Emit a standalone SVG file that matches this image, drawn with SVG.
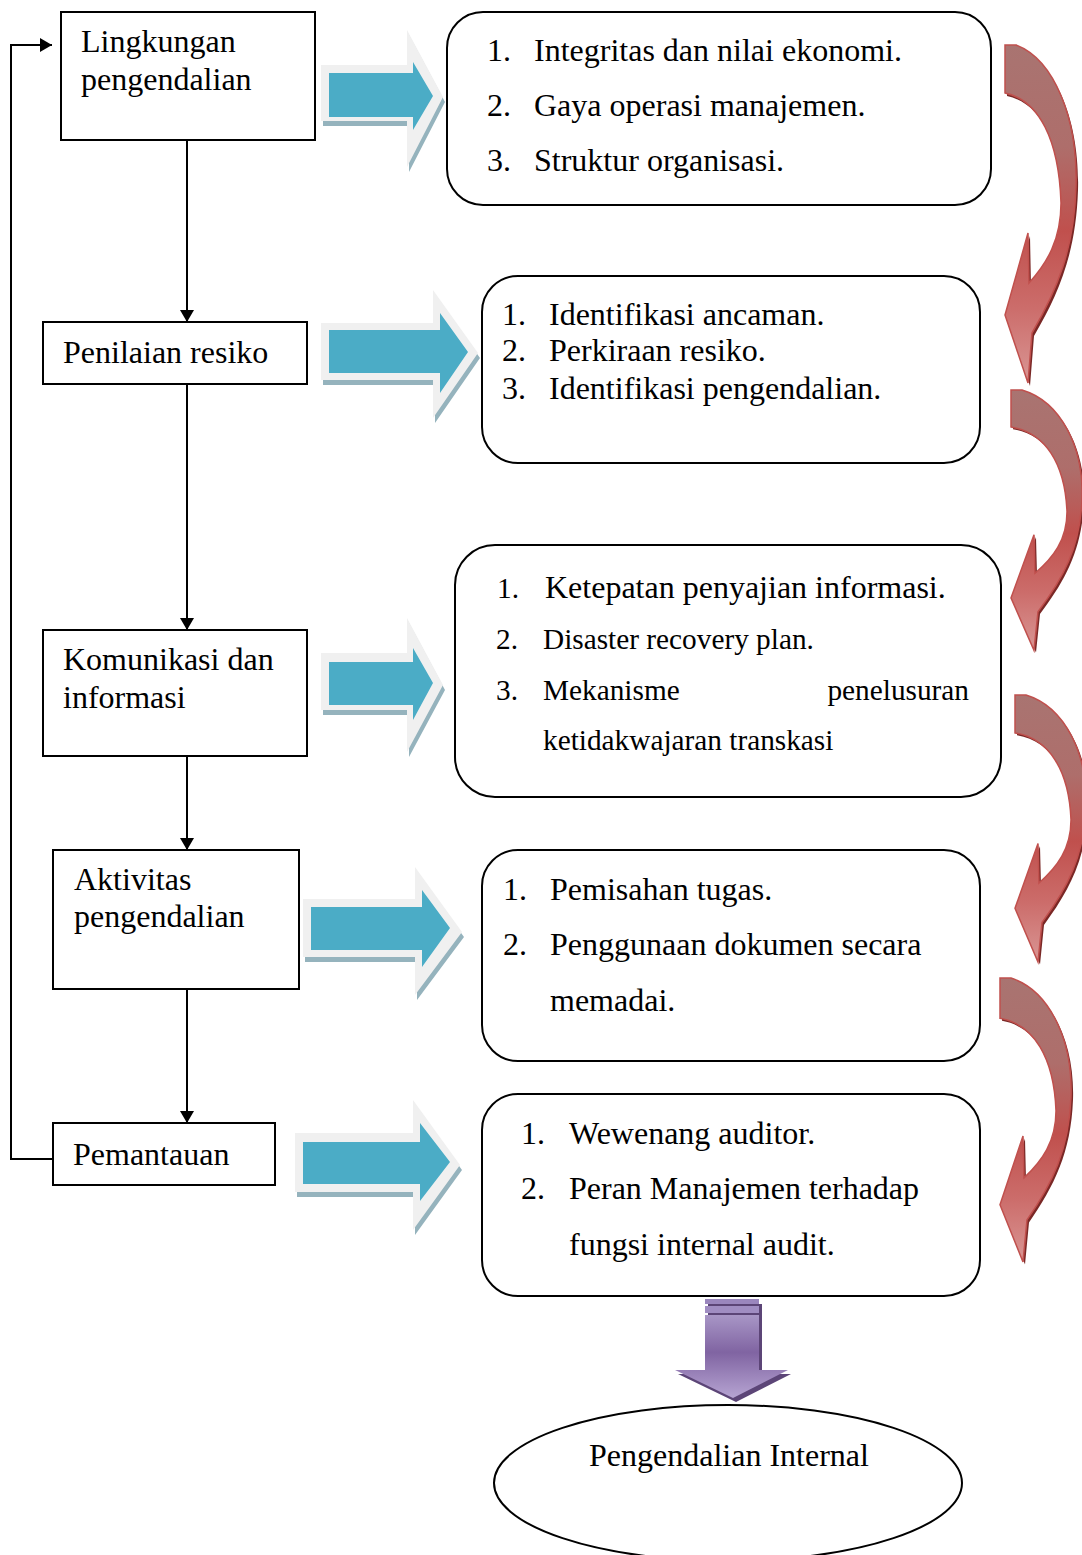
<svg xmlns="http://www.w3.org/2000/svg" xmlns:xlink="http://www.w3.org/1999/xlink" width="1082" height="1555" viewBox="0 0 1082 1555">
<style>
.box{fill:#fff;stroke:#000;stroke-width:2}
.rbox{fill:#fff;stroke:#000;stroke-width:2}
.t{font-family:"Liberation Serif","Times New Roman",serif;font-size:32px;fill:#000}
.ts{font-family:"Liberation Serif","Times New Roman",serif;font-size:29.3px;fill:#000}
.ln{fill:none;stroke:#000;stroke-width:2}
.bo{fill:#f0f0f0}
.bs{fill:#95b3bd}
.bb{fill:#4bacc6}
</style>
<defs>
<marker id="ah" viewBox="0 0 12 14" refX="12" refY="7" markerWidth="12" markerHeight="14" markerUnits="userSpaceOnUse" orient="auto">
<path d="M0,0 L12,7 L0,14 Z" fill="#000"/>
</marker>
<linearGradient id="rg" x1="0" y1="0" x2="0" y2="1">
<stop offset="0" stop-color="#a97471"/>
<stop offset="0.3" stop-color="#ae6e6b"/>
<stop offset="0.55" stop-color="#c0504d"/>
<stop offset="0.78" stop-color="#cc6d6b"/>
<stop offset="1" stop-color="#d99694"/>
</linearGradient>
<linearGradient id="pg" x1="0" y1="0" x2="0" y2="1">
<stop offset="0" stop-color="#a896c6"/>
<stop offset="0.45" stop-color="#8064a2"/>
<stop offset="1" stop-color="#b6a4d2"/>
</linearGradient>
<g id="redArrow">
<path transform="translate(2,3)" fill="#7a2826" d="M0,0 L11,0 C50,15 73,75 71,142 C69,205 52,245 27,288 L23,338 L0,270 L23,188 L24,238 C42,218 56,195 56,158 C54,95 34,55 0,48 Z"/>
<path fill="url(#rg)" stroke="#c0504d" stroke-width="1.5" vector-effect="non-scaling-stroke" d="M0,0 L11,0 C50,15 73,75 71,142 C69,205 52,245 27,288 L23,338 L0,270 L23,188 L24,238 C42,218 56,195 56,158 C54,95 34,55 0,48 Z"/>
</g>
</defs>
<rect width="1082" height="1555" fill="#fff"/>

<g id="connectors">
<line class="ln" x1="187" y1="140" x2="187" y2="322" marker-end="url(#ah)"/>
<line class="ln" x1="187" y1="384" x2="187" y2="630" marker-end="url(#ah)"/>
<line class="ln" x1="187" y1="756" x2="187" y2="850" marker-end="url(#ah)"/>
<line class="ln" x1="187" y1="989" x2="187" y2="1123" marker-end="url(#ah)"/>
<polyline class="ln" points="53,1159 11,1159 11,45 52,45" marker-end="url(#ah)"/>

<g id="blue-arrow-1">
<path class="bs" transform="translate(2,5)" d="M321,65 L407,65 L407,30 L443,97 L407,167 L407,121 L321,121 Z"/>
<path class="bo" d="M321,65 L407,65 L407,30 L443,97 L407,167 L407,121 L321,121 Z"/>
<path class="bb" d="M329,73 L413,73 L413,62 L433,96 L413,130 L413,117 L329,117 Z"/>
</g>
<g id="blue-arrow-2">
<path class="bs" transform="translate(2,5)" d="M321,323 L433,323 L433,290 L478,353 L433,418 L433,380 L321,380 Z"/>
<path class="bo" d="M321,323 L433,323 L433,290 L478,353 L433,418 L433,380 L321,380 Z"/>
<path class="bb" d="M329,330 L440,330 L440,313 L468,352 L440,393 L440,373 L329,373 Z"/>
</g>
<g id="blue-arrow-3">
<path class="bs" transform="translate(2,5)" d="M321,653 L407,653 L407,618 L443,685 L407,752 L407,710 L321,710 Z"/>
<path class="bo" d="M321,653 L407,653 L407,618 L443,685 L407,752 L407,710 L321,710 Z"/>
<path class="bb" d="M329,662 L413,662 L413,648 L433,683 L413,720 L413,705 L329,705 Z"/>
</g>
<g id="blue-arrow-4">
<path class="bs" transform="translate(2,5)" d="M303,899 L415,899 L415,867 L462,932 L415,995 L415,957 L303,957 Z"/>
<path class="bo" d="M303,899 L415,899 L415,867 L462,932 L415,995 L415,957 L303,957 Z"/>
<path class="bb" d="M311,907 L422,907 L422,890 L450,928 L422,967 L422,950 L311,950 Z"/>
</g>
<g id="blue-arrow-5">
<path class="bs" transform="translate(2,5)" d="M295,1133 L413,1133 L413,1100 L460,1165 L413,1230 L413,1192 L295,1192 Z"/>
<path class="bo" d="M295,1133 L413,1133 L413,1100 L460,1165 L413,1230 L413,1192 L295,1192 Z"/>
<path class="bb" d="M303,1142 L420,1142 L420,1123 L450,1162 L420,1201 L420,1184 L303,1184 Z"/>
</g>

<use xlink:href="#redArrow" href="#redArrow" transform="translate(1005,45)"/>
<use xlink:href="#redArrow" href="#redArrow" transform="translate(1011,390) scale(1,0.77)"/>
<use xlink:href="#redArrow" href="#redArrow" transform="translate(1015,695) scale(1,0.79)"/>
<use xlink:href="#redArrow" href="#redArrow" transform="translate(1000,978) scale(1,0.84)"/>

<g id="purple-arrow">
<path fill="#5c4577" transform="translate(3,4)" d="M705,1300 L759,1300 L759,1370 L788,1370 L733,1398 L675,1370 L705,1370 Z"/>
<path fill="url(#pg)" d="M705,1315 L759,1315 L759,1370 L788,1370 L733,1398 L675,1370 L705,1370 Z"/>
<rect x="705" y="1299" width="54" height="5" fill="#9a86bd"/>
<rect x="705" y="1306" width="54" height="7" fill="#a08dc2"/>
</g>
</g>

<g id="node-lingkungan">
<rect class="box" x="61" y="12" width="254" height="128"/>
<text class="t" x="81" y="52">Lingkungan</text>
<text class="t" x="81" y="90">pengendalian</text>
</g>
<g id="node-penilaian">
<rect class="box" x="43" y="322" width="264" height="62"/>
<text class="t" x="63" y="363">Penilaian resiko</text>
</g>
<g id="node-komunikasi">
<rect class="box" x="43" y="630" width="264" height="126"/>
<text class="t" x="63" y="670">Komunikasi dan</text>
<text class="t" x="63" y="708">informasi</text>
</g>
<g id="node-aktivitas">
<rect class="box" x="53" y="850" width="246" height="139"/>
<text class="t" x="74" y="890">Aktivitas</text>
<text class="t" x="74" y="927">pengendalian</text>
</g>
<g id="node-pemantauan">
<rect class="box" x="53" y="1123" width="222" height="62"/>
<text class="t" x="73" y="1165">Pemantauan</text>
</g>

<g id="detail-1">
<rect class="rbox" x="447" y="12" width="544" height="193" rx="36"/>
<text class="t" x="487" y="61">1.</text><text class="t" x="534" y="61">Integritas dan nilai ekonomi.</text>
<text class="t" x="487" y="116">2.</text><text class="t" x="534" y="116">Gaya operasi manajemen.</text>
<text class="t" x="487" y="171">3.</text><text class="t" x="534" y="171">Struktur organisasi.</text>
</g>
<g id="detail-2">
<rect class="rbox" x="482" y="276" width="498" height="187" rx="36"/>
<text class="t" x="502" y="325">1.</text><text class="t" x="549" y="325">Identifikasi ancaman.</text>
<text class="t" x="502" y="361">2.</text><text class="t" x="549" y="361">Perkiraan resiko.</text>
<text class="t" x="502" y="399">3.</text><text class="t" x="549" y="399">Identifikasi pengendalian.</text>
</g>
<g id="detail-3">
<rect class="rbox" x="455" y="545" width="546" height="252" rx="40"/>
<text class="ts" x="497" y="598">1.</text><text class="t" x="545" y="598">Ketepatan penyajian informasi.</text>
<text class="ts" x="496" y="649">2.</text><text class="ts" x="543" y="649">Disaster recovery plan.</text>
<text class="ts" x="496" y="700">3.</text><text class="ts" x="543" y="700">Mekanisme</text><text class="ts" x="969" y="700" text-anchor="end">penelusuran</text>
<text class="ts" x="543" y="750">ketidakwajaran transkasi</text>
</g>
<g id="detail-4">
<rect class="rbox" x="482" y="850" width="498" height="211" rx="36"/>
<text class="t" x="503" y="900">1.</text><text class="t" x="550" y="900">Pemisahan tugas.</text>
<text class="t" x="503" y="955">2.</text><text class="t" x="550" y="955">Penggunaan dokumen secara</text>
<text class="t" x="550" y="1011">memadai.</text>
</g>
<g id="detail-5">
<rect class="rbox" x="482" y="1094" width="498" height="202" rx="36"/>
<text class="t" x="521" y="1144">1.</text><text class="t" x="569" y="1144">Wewenang auditor.</text>
<text class="t" x="521" y="1199">2.</text><text class="t" x="569" y="1199">Peran Manajemen terhadap</text>
<text class="t" x="569" y="1255">fungsi internal audit.</text>
</g>
<g id="node-pengendalian-internal">
<ellipse cx="728" cy="1483" rx="234" ry="78" fill="#fff" stroke="#000" stroke-width="2"/>
<text class="t" x="589" y="1466">Pengendalian Internal</text>
</g>
</svg>
